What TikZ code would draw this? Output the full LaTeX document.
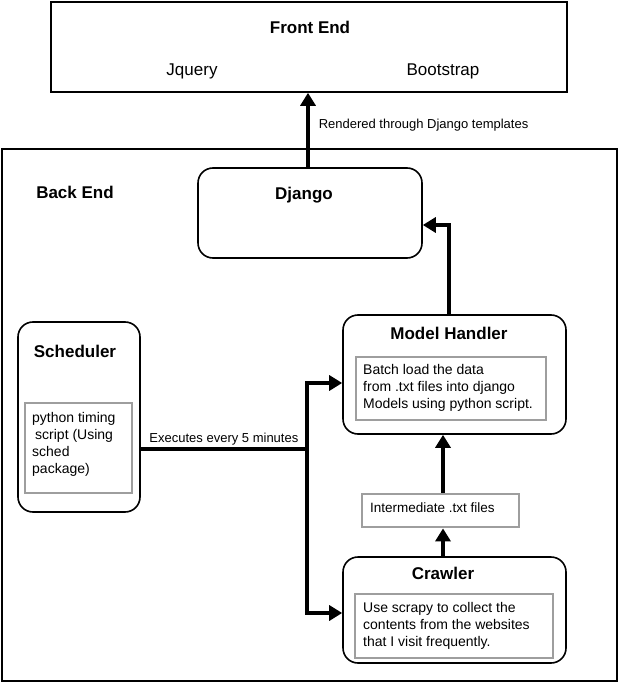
\documentclass[tikz,border=0pt]{standalone}
\usepackage{fontspec}
\setmainfont{Liberation Sans}
\usetikzlibrary{arrows.meta,positioning,calc}

\begin{document}
\begin{tikzpicture}[x=1pt,y=-1pt,
    block/.style={draw,line width=1.6pt,rounded corners=15pt,inner sep=0pt},
    plain/.style={draw,line width=1.6pt,inner sep=0pt},
    graybox/.style={draw=black!38,line width=2.8pt,inner sep=0pt},
    title/.style={font=\fontsize{17}{20}\selectfont\bfseries},
    lib/.style={font=\fontsize{17}{20}\selectfont},
    body/.style={font=\fontsize{14}{17}\selectfont,align=left,inner sep=0pt,anchor=north west},
    arr/.style={line width=3.5pt,-{Triangle[width=15pt,length=13pt]}},
    link/.style={line width=3.5pt}]
            \useasboundingbox (0,0) rectangle (619,684);
            % draw the front end box
            \node[plain,minimum width=516pt,minimum height=90pt] (frontend) at (309,47) {};
            \node[title] (fetitle) at (310,27) {Front End};
            \node[lib] (jquery) at (192,71) {Jquery};
            \node[lib] (bootstrap) at (443,71) {Bootstrap};
            % draw the back end box
            \node[plain,minimum width=615pt,minimum height=532pt] (backend) at (309.5,415) {};
            \node[title] (betitle) at (75,192) {Back End};
            % django
            \node[block,minimum width=224pt,minimum height=90pt] (django) at (310,213) {};
            \node[title] (djtitle) at (304,195) {Django};
            % scheduler with its script box
            \node[block,minimum width=122pt,minimum height=190pt] (scheduler) at (79,417) {};
            \node[title] (schedtitle) at (75,351) {Scheduler};
            \node[graybox,minimum width=107pt,minimum height=90pt] (schedbox) at (78.5,448) {};
            \node[body] (schedtext) at (32,412) {python timing\\\hspace{3pt}script (Using\\sched\\package)};
            % model handler with its box
            \node[block,minimum width=223pt,minimum height=119pt] (handler) at (454.5,374.5) {};
            \node[title] (handtitle) at (449,333) {Model Handler};
            \node[graybox,minimum width=190pt,minimum height=63pt] (handbox) at (451,388.5) {};
            \node[body] (handtext) at (363,364) {Batch load the data\\from .txt files into django\\Models using python script.};
            % intermediate files
            \node[graybox,minimum width=157pt,minimum height=33pt] (txtfiles) at (440.5,510.5) {};
            \node[body,font=\fontsize{13.5}{17}\selectfont] (txttext) at (370,502.5) {Intermediate .txt files};
            % crawler with its box
            \node[block,minimum width=223pt,minimum height=106pt] (crawler) at (454.5,610) {};
            \node[title] (crawtitle) at (443,573) {Crawler};
            \node[graybox,minimum width=198pt,minimum height=64pt] (crawbox) at (454,626) {};
            \node[body] (crawtext) at (363,602.5) {Use scrapy to collect the\\contents from the websites\\that I visit frequently.};
            % draw arrow from django up to the front end
            \draw[arr] ([xshift=-2pt]django.north) -- ([xshift=-2pt]django.north |- frontend.south)
                node[pos=0.57,right=9pt,font=\fontsize{13}{16}\selectfont,inner sep=0pt] (rendered) {Rendered through Django templates};
            \draw[arr] ([xshift=-5.5pt]handler.north) |- ([yshift=-12pt]django.east);
            % draw the scheduler line and split it to handler and crawler
            \coordinate (split) at (307,449);
            \draw[link] (scheduler.east |- split) -- (split)
                node[midway,above=2pt,font=\fontsize{13}{16}\selectfont,inner sep=0pt] (every) {Executes every 5 minutes};
            \draw[arr] (split) |- ([yshift=-8.5pt]handler.west);
            \draw[arr] (split) |- ([yshift=-3pt]crawler.west);
            % draw arrows through the intermediate files
            \draw[arr] ([xshift=2.5pt]txtfiles.north) -- ([xshift=2.5pt]txtfiles.north |- handler.south);
            \draw[arr] ([xshift=2.5pt]txtfiles.south |- crawler.north) -- ([xshift=2.5pt]txtfiles.south);
\end{tikzpicture}
\end{document}
